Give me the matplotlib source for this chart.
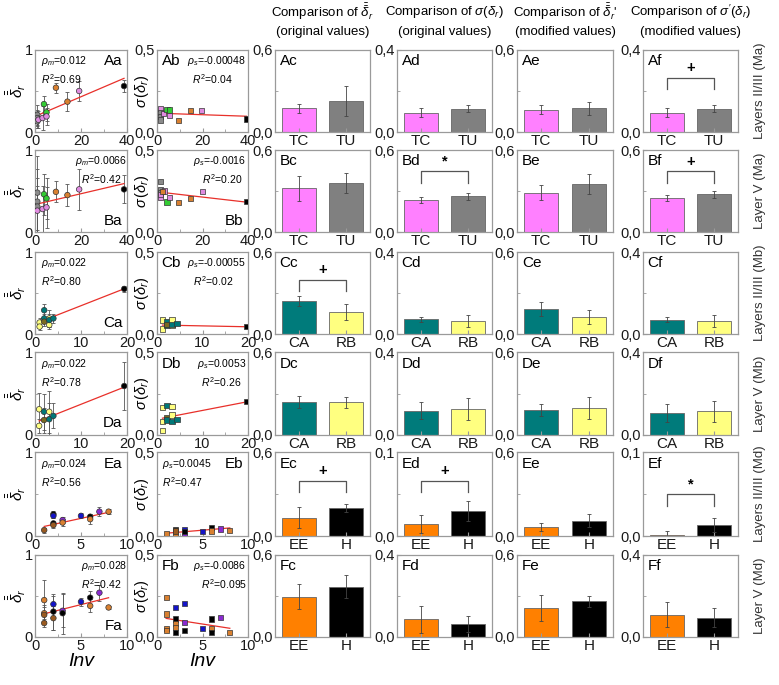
import numpy as np
import matplotlib.pyplot as plt
from matplotlib.ticker import FixedLocator

plt.rcParams['font.family'] = ['Liberation Sans', 'DejaVu Sans']
plt.rcParams['mathtext.fontset'] = 'custom'
plt.rcParams['mathtext.rm'] = 'Liberation Sans'
plt.rcParams['mathtext.it'] = 'Liberation Sans:italic'
plt.rcParams['mathtext.bf'] = 'Liberation Sans:bold'

# ---- scatter data (x = Inv, y = value, e = error, g = group) ----
aa_x = [1, 1, 1, 1.5, 3.3, 3.9, 5, 5, 9.1, 14.1, 19.2, 38.7]
aa_y = [0.21, 0.17, 0.13, 0.15, 0.17, 0.34, 0.24, 0.19, 0.54, 0.37, 0.50, 0.56]
aa_e = [0.12, 0.10, 0.08, 0.10, 0.15, 0.10, 0.10, 0.10, 0.06, 0.12, 0.12, 0.07]
aa_g = ['gy', 'gy', 'gy', 'pk', 'pk', 'gn', 'gn', 'pk', 'or', 'or', 'pk', 'bk']

ab_x = [1.5, 1.5, 1.5, 1.5, 2.9, 4.4, 5.4, 5.4, 9.5, 14.8, 19.6, 39.3]
ab_y = [0.144, 0.118, 0.093, 0.073, 0.114, 0.138, 0.134, 0.10, 0.069, 0.13, 0.13, 0.079]
ab_g = ['pk', 'gy', 'gy', 'gy', 'pk', 'gn', 'gn', 'pk', 'or', 'or', 'pk', 'bk']

ba_x = [1, 1, 1, 1, 3.3, 3.9, 5, 5, 9.1, 14.1, 19.2, 38.7]
ba_y = [0.48, 0.37, 0.31, 0.26, 0.28, 0.46, 0.41, 0.30, 0.49, 0.45, 0.52, 0.52]
ba_e = [0.45, 0.40, 0.35, 0.30, 0.28, 0.25, 0.25, 0.25, 0.13, 0.13, 0.25, 0.17]
ba_g = ['gy', 'gy', 'gy', 'pk', 'pk', 'gn', 'gn', 'pk', 'or', 'or', 'pk', 'bk']

bb_x = [1.5, 1.5, 1.5, 1.5, 1.5, 3.3, 2.5, 4.4, 5.4, 9.5, 14.8, 19.9, 39.3]
bb_y = [0.307, 0.26, 0.24, 0.21, 0.23, 0.25, 0.245, 0.183, 0.21, 0.18, 0.205, 0.246, 0.187]
bb_g = ['gy', 'gy', 'gy', 'pk', 'pk', 'pk', 'or', 'gn', 'pk', 'or', 'or', 'pk', 'bk']

ca_x = [1, 1, 2, 2, 2, 3.1, 3.1, 3.1, 4, 19.4]
ca_y = [0.14, 0.09, 0.29, 0.19, 0.15, 0.19, 0.11, 0.17, 0.19, 0.55]
ca_e = [0.05, 0.04, 0.08, 0.06, 0.05, 0.10, 0.05, 0.08, 0.05, 0.04]
ca_g = ['ye', 'ye', 'tl', 'tl', 'br', 'ye', 'ye', 'tl', 'tl', 'bk']

cb_x = [1.2, 1.2, 2.2, 2.2, 2.2, 3.3, 3.3, 3.3, 4.4, 19.6]
cb_y = [0.085, 0.03, 0.075, 0.05, 0.06, 0.085, 0.05, 0.06, 0.065, 0.045]
cb_g = ['ye', 'ye', 'tl', 'tl', 'br', 'ye', 'ye', 'tl', 'tl', 'bk']

da_x = [0.9, 0.9, 1.95, 1.95, 3.1, 3.1, 4, 19.4]
da_y = [0.31, 0.11, 0.28, 0.18, 0.28, 0.19, 0.23, 0.59]
da_e = [0.20, 0.08, 0.22, 0.15, 0.25, 0.20, 0.15, 0.29]
da_g = ['ye', 'ye', 'tl', 'br', 'ye', 'tl', 'tl', 'bk']

db_x = [1.2, 1.2, 1.2, 2.2, 2.2, 2.2, 3.3, 3.3, 3.3, 4.4, 19.6]
db_y = [0.164, 0.08, 0.025, 0.18, 0.105, 0.09, 0.17, 0.12, 0.08, 0.095, 0.20]
db_g = ['ye', 'ye', 'ye', 'tl', 'br', 'tl', 'ye', 'ye', 'tl', 'tl', 'bk']

ea_x = [1, 2, 2, 2, 2, 3, 3, 5, 6, 6, 7, 8]
ea_y = [0.07, 0.26, 0.24, 0.15, 0.13, 0.19, 0.16, 0.24, 0.23, 0.20, 0.29, 0.29]
ea_e = [0.03, 0.04, 0.03, 0.03, 0.03, 0.04, 0.04, 0.03, 0.03, 0.06, 0.05, 0.03]
ea_g = ['db', 'bk', 'bl', 'bk', 'db', 'pu', 'or', 'bl', 'bk', 'or', 'pu', 'or']

eb_x = [1, 2, 2, 2, 3, 3, 3, 5, 6, 6, 7, 8]
eb_y = [0.016, 0.04, 0.016, 0.03, 0.04, 0.01, 0.025, 0.026, 0.05, 0.03, 0.042, 0.034]
eb_g = ['or', 'bk', 'or', 'db', 'bl', 'pu', 'bk', 'bl', 'bk', 'or', 'pu', 'or']

fa_x = [1, 1, 1, 1, 2, 2, 2, 3, 3, 5, 6, 6, 7, 8]
fa_y = [0.45, 0.29, 0.27, 0.17, 0.40, 0.31, 0.23, 0.32, 0.29, 0.43, 0.48, 0.38, 0.54, 0.36]
fa_e = [0.25, 0.10, 0.10, 0.05, 0.10, 0.22, 0.15, 0.20, 0.25, 0.05, 0.08, 0.08, 0.10, 0.02]
fa_g = ['or', 'or', 'db', 'db', 'bl', 'bk', 'db', 'pu', 'bk', 'bl', 'bk', 'or', 'pu', 'or']

fb_x = [1, 1, 1, 1, 2, 2, 2, 2, 2, 3, 3, 3, 5, 6, 6, 6, 7, 8]
fb_y = [0.24, 0.14, 0.053, 0.04, 0.18, 0.11, 0.08, 0.057, 0.026, 0.205, 0.087, 0.04,
        0.05, 0.11, 0.05, 0.026, 0.12, 0.026]
fb_g = ['or', 'or', 'or', 'or', 'bl', 'bk', 'or', 'or', 'bk', 'bl', 'pu', 'bk',
        'bl', 'bk', 'or', 'bk', 'pu', 'or']

# regression: intercept, slope (slope = rho), R^2
fit_a = [(0.19, 0.012, '0.69'), (0.335, 0.0066, '0.42'), (0.125, 0.022, '0.80'),
         (0.15, 0.022, '0.78'), (0.09, 0.024, '0.56'), (0.255, 0.028, '0.42')]
fit_b = [(0.115, -0.00048, '0.04'), (0.245, -0.0016, '0.20'), (0.055, -0.00055, '0.02'),
         (0.095, 0.0053, '0.26'), (0.012, 0.0045, '0.47'), (0.122, -0.0086, '0.095')]
rho_a = ['0.012', '0.0066', '0.022', '0.022', '0.024', '0.028']
rho_b = ['-0.00048', '-0.0016', '-0.00055', '0.0053', '0.0045', '-0.0086']

# ---- bar data ----
groups = [['TC', 'TU'], ['TC', 'TU'], ['CA', 'RB'], ['CA', 'RB'], ['EE', 'H'], ['EE', 'H']]
c_vals = [(0.172, 0.228), (0.319, 0.358), (0.243, 0.162), (0.24, 0.235), (0.131, 0.198), (0.296, 0.369)]
c_errs = [(0.035, 0.11), (0.09, 0.075), (0.037, 0.06), (0.042, 0.04), (0.075, 0.03), (0.09, 0.085)]
d_vals = [(0.095, 0.114), (0.233, 0.262), (0.072, 0.064), (0.118, 0.125), (0.0139, 0.030), (0.0875, 0.063)]
d_errs = [(0.02, 0.016), (0.02, 0.027), (0.012, 0.03), (0.04, 0.055), (0.0107, 0.012), (0.066, 0.04)]
e_vals = [(0.164, 0.172), (0.289, 0.35), (0.182, 0.123), (0.18, 0.196), (0.067, 0.11), (0.214, 0.26)]
e_errs = [(0.035, 0.047), (0.055, 0.075), (0.05, 0.05), (0.043, 0.078), (0.029, 0.045), (0.094, 0.042)]
f_vals = [(0.095, 0.114), (0.248, 0.275), (0.069, 0.064), (0.105, 0.115), (0.0012, 0.013), (0.109, 0.094)]
f_errs = [(0.02, 0.018), (0.022, 0.027), (0.012, 0.03), (0.042, 0.05), (0.0044, 0.008), (0.06, 0.047)]
ymax_c = [0.6] * 6
ymax_d = [0.4, 0.6, 0.4, 0.4, 0.1, 0.4]
ymax_e = [0.6] * 6
ymax_f = [0.4, 0.6, 0.4, 0.4, 0.1, 0.4]
# (row, col) -> symbol
signif = {(0, 3): '+', (1, 1): '*', (1, 3): '+', (2, 0): '+', (4, 0): '+', (4, 1): '+', (4, 3): '*'}

row_names = ['Layers II/III (Ma)', 'Layer V (Ma)', 'Layers II/III (Mb)',
             'Layer V (Mb)', 'Layers II/III (Md)', 'Layer V (Md)']
letters = ['A', 'B', 'C', 'D', 'E', 'F']
headers = [(r'Comparison of $\bar{\bar{\delta}}_r$', '(original values)'),
           (r'Comparison of $\sigma(\delta_r)$', '(original values)'),
           (r"Comparison of $\bar{\bar{\delta}}_r$'", '(modified values)'),
           (r"Comparison of $\sigma'(\delta_r)$", '(modified values)')]

# ---- styles ----
PT = {'gy': '#8a8a8a', 'pk': '#e08be0', 'gn': '#33cc33', 'or': '#d98030', 'bk': '#000000',
      'ye': '#ffff80', 'tl': '#007878', 'br': '#7a6a20', 'db': '#9a5a20', 'bl': '#1414c8',
      'pu': '#8a2ad0'}
BAR = {'TC': '#ff80ff', 'TU': '#808080', 'CA': '#007b7b', 'RB': '#ffff80', 'EE': '#ff8000', 'H': '#000000'}
SPINE = '#9a9a9a'

scat_a = [(aa_x, aa_y, aa_e, aa_g), (ba_x, ba_y, ba_e, ba_g), (ca_x, ca_y, ca_e, ca_g),
          (da_x, da_y, da_e, da_g), (ea_x, ea_y, ea_e, ea_g), (fa_x, fa_y, fa_e, fa_g)]
scat_b = [(ab_x, ab_y, ab_g), (bb_x, bb_y, bb_g), (cb_x, cb_y, cb_g),
          (db_x, db_y, db_g), (eb_x, eb_y, eb_g), (fb_x, fb_y, fb_g)]
xmax = [40, 40, 20, 20, 10, 10]

W, H = 779, 685
row_top = [50, 150, 252, 352, 452, 555]
row_bot = [132, 232, 334, 435, 536, 637]
col_l = [35, 157, 275, 397, 517, 643]
col_r = [127, 248, 370, 492, 613, 738]

# text placement per row: (rho x, ha, R2 x, label x, label y, label ha)
pos_a = [(0.06, 'left', 0.06, 0.95, 0.86, 'right'), (1.0, 'right', 0.5, 0.95, 0.14, 'right'),
         (0.06, 'left', 0.06, 0.95, 0.14, 'right'), (0.06, 'left', 0.06, 0.95, 0.14, 'right'),
         (0.06, 'left', 0.06, 0.95, 0.86, 'right'), (1.0, 'right', 0.5, 0.95, 0.14, 'right')]
pos_b = [(0.98, 'right', 0.38, 0.05, 0.86, 'left'), (0.98, 'right', 0.5, 0.95, 0.14, 'right'),
         (0.98, 'right', 0.4, 0.05, 0.86, 'left'), (0.98, 'right', 0.48, 0.05, 0.86, 'left'),
         (0.05, 'left', 0.05, 0.95, 0.86, 'right'), (0.98, 'right', 0.48, 0.05, 0.86, 'left')]


def add_ax(l, t, r, b):
    return fig.add_axes([l / W, 1 - b / H, (r - l) / W, (b - t) / H])


def style(ax):
    for s in ax.spines.values():
        s.set_color(SPINE)
        s.set_linewidth(0.9)
    ax.tick_params(which='both', direction='in', color=SPINE, labelsize=10.5,
                   labelcolor='#1a1a1a', pad=1.5)
    ax.tick_params(which='major', length=3)
    ax.tick_params(which='minor', length=2)


def comma(v):
    return f'{v:.1f}'.replace('.', ',')


fig = plt.figure(figsize=(W / 100, H / 100), dpi=100)

for i in range(6):
    # --- column a: mean value vs Inv ---
    ax = add_ax(col_l[0], row_top[i], col_r[0], row_bot[i])
    x, y, e, g = scat_a[i]
    ax.errorbar(x, y, yerr=e, fmt='none', ecolor='#555555', elinewidth=0.6, capsize=1.2, capthick=0.6)
    b0, k, r2 = fit_a[i]
    xx = np.array([min(x), max(x)])
    ax.plot(xx, b0 + k * xx, color='#e8302a', lw=0.9)
    ax.scatter(x, y, c=[PT[c] for c in g], s=16, edgecolors='#333333', linewidths=0.5, zorder=3)
    ax.set_xlim(0, xmax[i]); ax.set_ylim(0, 1)
    ax.xaxis.set_major_locator(FixedLocator([0, xmax[i] / 2, xmax[i]]))
    ax.xaxis.set_minor_locator(FixedLocator([xmax[i] / 4, 3 * xmax[i] / 4]))
    ax.set_xticklabels([f'{v:g}' for v in [0, xmax[i] / 2, xmax[i]]])
    ax.yaxis.set_major_locator(FixedLocator([0, 1]))
    ax.yaxis.set_minor_locator(FixedLocator([0.5]))
    ax.set_yticklabels(['0', '1'])
    style(ax)
    px, pha, rx, lx, ly, lha = pos_a[i]
    ax.text(px, 0.86, r'$\rho_m$' + f'={rho_a[i]}', transform=ax.transAxes, ha=pha, va='center', fontsize=7.5)
    ax.text(rx, 0.64, r'$R^2$' + f'={r2}', transform=ax.transAxes, ha='left', va='center', fontsize=7.5)
    ax.text(lx, ly, letters[i] + 'a', transform=ax.transAxes, ha=lha, va='center', fontsize=11)
    fig.text(16 / W, 1 - (row_top[i] + row_bot[i]) / 2 / H, r'$\bar{\bar{\delta}}_r$',
             rotation=90, ha='center', va='center', fontsize=11)

    # --- column b: sigma vs Inv ---
    ax = add_ax(col_l[1], row_top[i], col_r[1], row_bot[i])
    x, y, g = scat_b[i]
    b0, k, r2 = fit_b[i]
    xx = np.array([min(x), max(x)])
    ax.plot(xx, b0 + k * xx, color='#e8302a', lw=0.9)
    ax.scatter(x, y, c=[PT[c] for c in g], s=14, marker='s', edgecolors='#333333', linewidths=0.5, zorder=3)
    ax.set_xlim(0, xmax[i]); ax.set_ylim(0, 0.5)
    ax.xaxis.set_major_locator(FixedLocator([0, xmax[i] / 2, xmax[i]]))
    ax.xaxis.set_minor_locator(FixedLocator([xmax[i] / 4, 3 * xmax[i] / 4]))
    ax.set_xticklabels([f'{v:g}' for v in [0, xmax[i] / 2, xmax[i]]])
    ax.yaxis.set_major_locator(FixedLocator([0, 0.5]))
    ax.yaxis.set_minor_locator(FixedLocator([0.25]))
    ax.set_yticklabels(['0,0', '0,5'])
    style(ax)
    px, pha, rx, lx, ly, lha = pos_b[i]
    ax.text(px, 0.86, r'$\rho_s$' + f'={rho_b[i]}', transform=ax.transAxes, ha=pha, va='center', fontsize=7.5)
    ax.text(rx, 0.64, r'$R^2$' + f'={r2}', transform=ax.transAxes, ha='left', va='center', fontsize=7.5)
    ax.text(lx, ly, letters[i] + 'b', transform=ax.transAxes, ha=lha, va='center', fontsize=11)
    fig.text(142 / W, 1 - (row_top[i] + row_bot[i]) / 2 / H, r'$\sigma\,(\delta_r)$',
             rotation=90, ha='center', va='center', fontsize=10.5)

    # --- columns c-f: bar comparisons ---
    bar_sets = [(c_vals, c_errs, ymax_c), (d_vals, d_errs, ymax_d),
                (e_vals, e_errs, ymax_e), (f_vals, f_errs, ymax_f)]
    for j, (vals, errs, ymx) in enumerate(bar_sets):
        ax = add_ax(col_l[j + 2], row_top[i], col_r[j + 2], row_bot[i])
        cats = groups[i]
        ax.bar([0, 1], vals[i], width=0.72, color=[BAR[c] for c in cats],
               edgecolor='#666666', linewidth=0.6)
        ax.errorbar([0, 1], vals[i], yerr=errs[i], fmt='none', ecolor='#444444',
                    elinewidth=0.6, capsize=1.2, capthick=0.6)
        m = ymx[i]
        ax.set_xlim(-0.5, 1.5); ax.set_ylim(0, m)
        ax.set_xticks([0, 1]); ax.set_xticklabels(cats, fontsize=11)
        ax.yaxis.set_major_locator(FixedLocator([0, m]))
        ax.yaxis.set_minor_locator(FixedLocator([m / 2]))
        ax.set_yticklabels(['0,0', comma(m)])
        style(ax)
        ax.tick_params(axis='x', labelsize=11)
        ax.text(0.05, 0.86, letters[i] + 'cdef'[j], transform=ax.transAxes,
                ha='left', va='center', fontsize=11)
        if (i, j) in signif:
            top = 0.74 * m if i == 1 else (0.5 * m if (i, j) == (4, 3) else 0.66 * m)
            low = top - 0.14 * m
            ax.plot([0, 0, 1, 1], [low, top, top, low], color='#555555', lw=0.9)
            ax.text(0.5, top + 0.03 * m, signif[(i, j)], ha='center', va='bottom',
                    fontsize=10.5, fontweight='bold')

    fig.text(760 / W, 1 - (row_top[i] + row_bot[i]) / 2 / H, row_names[i], rotation=90,
             ha='center', va='center', fontsize=9.5, color='#333333')

for j, (h1, h2) in enumerate(headers):
    cx = (col_l[j + 2] + col_r[j + 2]) / 2 / W
    fig.text(cx, 1 - 12 / H, h1, ha='center', va='center', fontsize=9.5)
    fig.text(cx, 1 - 32 / H, h2, ha='center', va='center', fontsize=9.5)

for j in range(2):
    cx = (col_l[j] + col_r[j]) / 2 / W
    fig.text(cx, 1 - 662 / H, 'Inv', ha='center', va='center', fontsize=14, style='italic')

fig.savefig('out.png', dpi=100)
